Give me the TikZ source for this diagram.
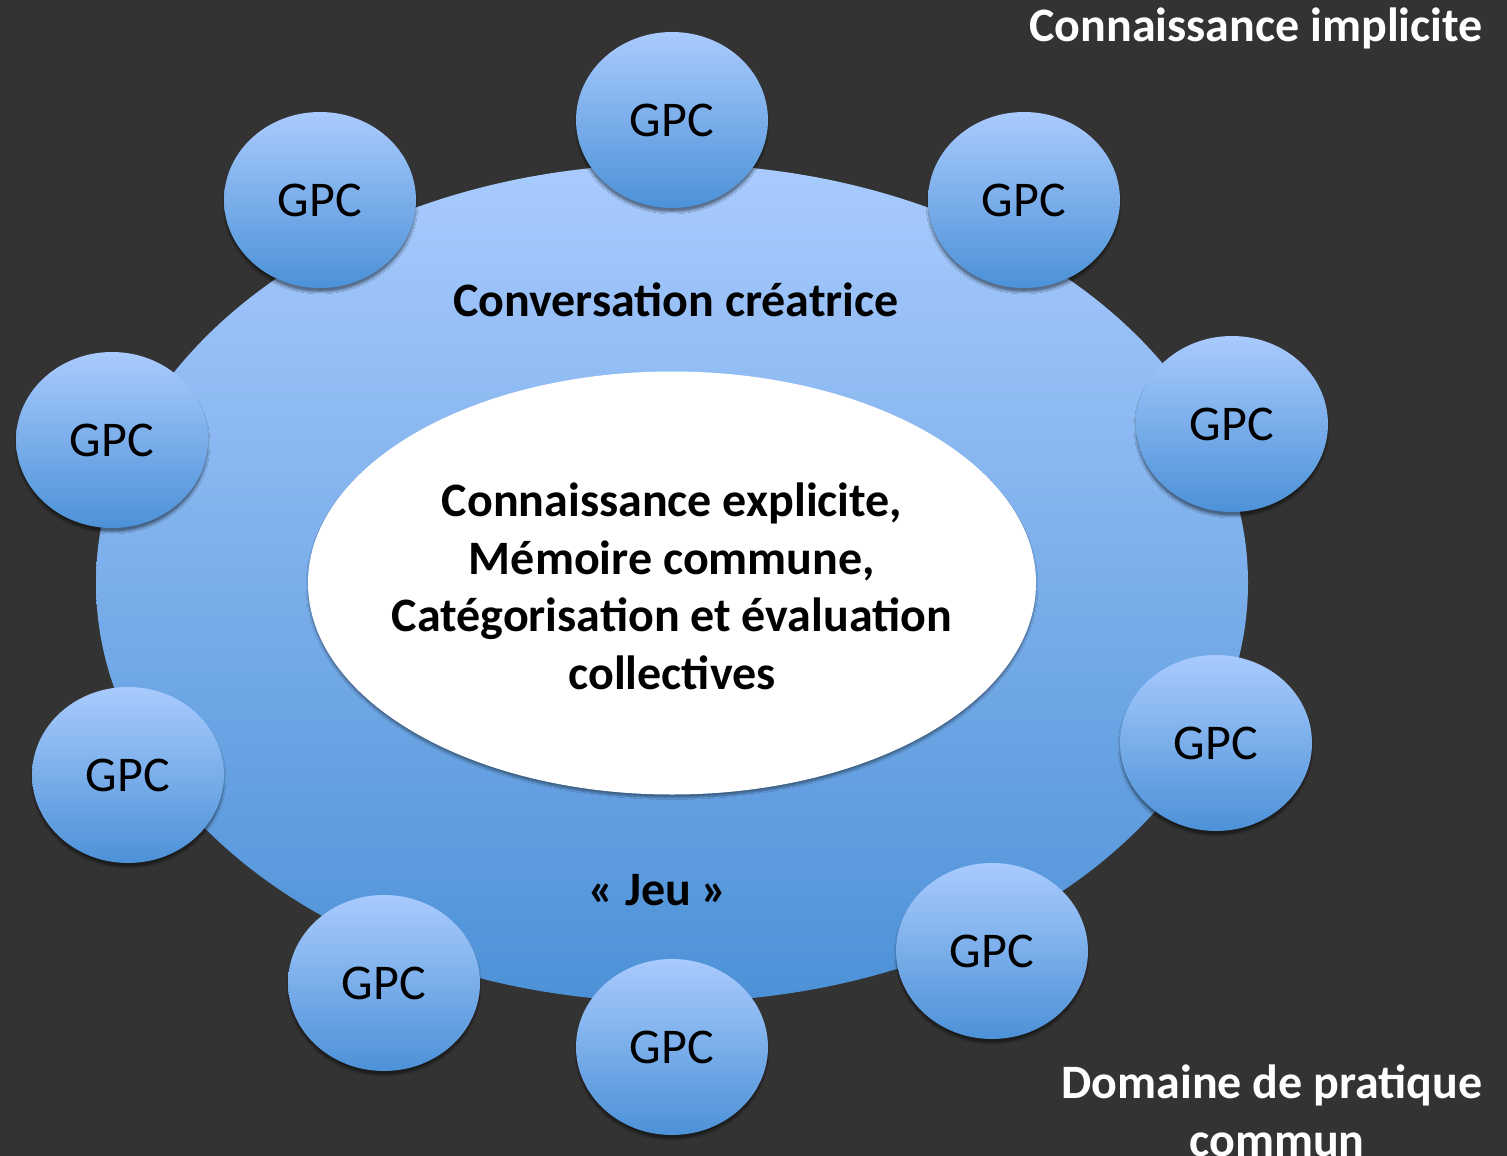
\documentclass[tikz,border=0pt]{standalone}
\usepackage{fontspec}
\setmainfont{Carlito}
\usetikzlibrary{shapes.geometric,shadows.blur}
\definecolor{bg}{HTML}{333333}
\definecolor{blueTop}{HTML}{A9CBFE}
\definecolor{blueBot}{HTML}{4C91D7}
\tikzset{
  gpc/.style={ellipse, minimum width=192pt, minimum height=176pt, inner sep=0pt,
    top color=blueTop, bottom color=blueBot,
    blur shadow={shadow xshift=0pt, shadow yshift=-4pt, shadow blur steps=6, shadow opacity=45},
    font=\fontsize{50}{54}\selectfont, text=black},
  bigell/.style={ellipse, minimum width=1152pt, minimum height=838pt, inner sep=0pt,
    top color=blueTop, bottom color=blueBot},
  inell/.style={ellipse, minimum width=728pt, minimum height=423pt, inner sep=0pt, fill=white,
    blur shadow={shadow xshift=0pt, shadow yshift=-3pt, shadow blur steps=8, shadow opacity=40}},
  lbl/.style={font=\bfseries\fontsize{48}{56}\selectfont, anchor=base, inner sep=0pt},
  wlbl/.style={lbl, text=white},
}
\newcommand{\gpctext}{\raisebox{-3pt}{GPC}}
\begin{document}
\begin{tikzpicture}[x=1pt,y=-1pt]
\fill[bg] (0,0) rectangle (1507,1156);
\useasboundingbox (0,0) rectangle (1507,1156);
\node[bigell] (big) at (672,583) {};
\node[inell] (inner) at (672,583) {};
\node[gpc] (g1) at (672,120) {\gpctext};
\node[gpc] (g2) at (320,200) {\gpctext};
\node[gpc] (g3) at (1024,200) {\gpctext};
\node[gpc] (g4) at (112,440) {\gpctext};
\node[gpc] (g5) at (1232,424) {\gpctext};
\node[gpc] (g6) at (128,775) {\gpctext};
\node[gpc] (g7) at (1216,743) {\gpctext};
\node[gpc] (g8) at (384,983) {\gpctext};
\node[gpc] (g9) at (672,1047) {\gpctext};
\node[gpc] (g10) at (992,951) {\gpctext};
\node[lbl] (conv) at (676,316) {Conversation créatrice};
\node[lbl] (jeu) at (658,905) {« Jeu »};
\node[lbl] (c1) at (672,516) {Connaissance explicite,};
\node[lbl] (c2) at (672,574) {Mémoire commune,};
\node[lbl] (c3) at (672,631) {Catégorisation et évaluation};
\node[lbl] (c4) at (672,689) {collectives};
\node[wlbl] (impl) at (1256,42) {Connaissance implicite};
\node[wlbl] (dom1) at (1272,1098) {Domaine de pratique};
\node[wlbl] (dom2) at (1277,1156) {commun};
\end{tikzpicture}
\end{document}
